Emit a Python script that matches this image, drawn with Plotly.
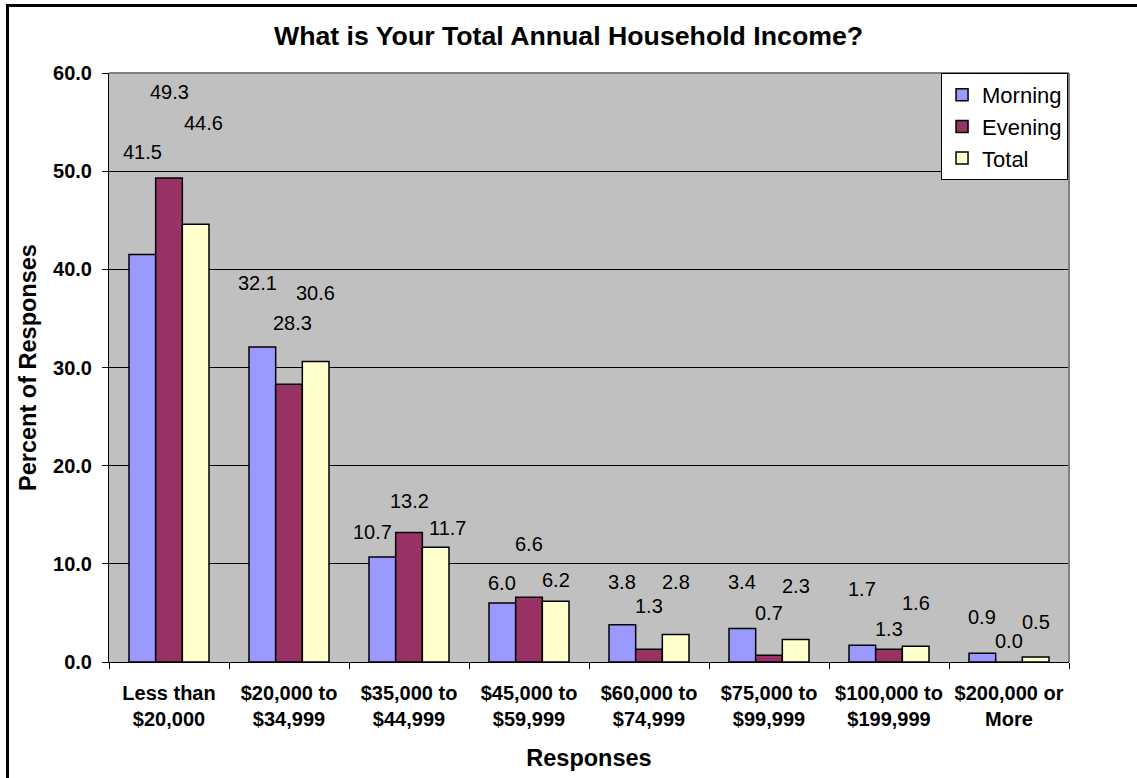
import plotly.graph_objects as go

# Income brackets (two-line axis labels)
categories = [
    "Less than<br>$20,000",
    "$20,000 to<br>$34,999",
    "$35,000 to<br>$44,999",
    "$45,000 to<br>$59,999",
    "$60,000 to<br>$74,999",
    "$75,000 to<br>$99,999",
    "$100,000 to<br>$199,999",
    "$200,000 or<br>More",
]

# Percent of responses per session
morning = [41.5, 32.1, 10.7, 6.0, 3.8, 3.4, 1.7, 0.9]
evening = [49.3, 28.3, 13.2, 6.6, 1.3, 0.7, 1.3, 0.0]
total = [44.6, 30.6, 11.7, 6.2, 2.8, 2.3, 1.6, 0.5]

y_ticks = [0, 10, 20, 30, 40, 50, 60]

# Where each value label sits (y in axis units, extra horizontal nudge in px)
morning_label_y = [52.0, 38.6, 13.2, 8.0, 8.2, 8.1, 7.4, 4.6]
evening_label_y = [58.1, 34.5, 16.4, 12.0, 5.7, 5.0, 3.4, 2.1]
total_label_y = [54.9, 37.6, 13.7, 8.35, 8.2, 7.7, 6.0, 4.1]
morning_label_dx = [0, -5, -10, 0, 0, 0, 0, 0]
evening_label_dx = [0, 3, 0, 0, 0, 0, 0, 0]
total_label_dx = [8, 0, 12, 0, 0, 0, 0, 0]

FONT = "Liberation Sans, Arial, sans-serif"
W, H = 1137, 778
M_L, M_R, M_T, M_B = 109, 68, 73, 116
BARGAP = 1 / 3

series = [
    ("Morning", morning, "#9999FF", morning_label_y, morning_label_dx),
    ("Evening", evening, "#993366", evening_label_y, evening_label_dx),
    ("Total", total, "#FFFFCC", total_label_y, total_label_dx),
]

fig = go.Figure()
for k, (name, vals, color, _, _) in enumerate(series):
    fig.add_trace(go.Bar(
        name=name,
        x=categories,
        y=vals,
        marker=dict(color=color, line=dict(color="black", width=1.5)),
        legendgroup=name,
        hoverinfo="skip",
    ))

# Value labels above the bars
plot_w = W - M_L - M_R
bar_px = plot_w / len(categories) * (1 - BARGAP) / len(series)
for k, (name, vals, color, label_y, label_dx) in enumerate(series):
    for i, cat in enumerate(categories):
        fig.add_annotation(
            x=cat, y=label_y[i], xref="x", yref="y",
            text=f"{vals[i]:.1f}", showarrow=False,
            xshift=(k - 1) * bar_px + label_dx[i],
            font=dict(family=FONT, size=20, color="black"),
        )

# Grey border on the top and right of the plot area
fig.add_shape(type="line", xref="paper", yref="paper", x0=0, x1=1, y0=1, y1=1,
              line=dict(color="#808080", width=2), layer="above")
fig.add_shape(type="line", xref="paper", yref="paper", x0=1, x1=1, y0=0, y1=1,
              line=dict(color="#808080", width=2), layer="above")

# Outer frame (left and top edges)
plot_h = H - M_T - M_B
def px_x(px):
    return (px - M_L) / plot_w
def px_y(py):
    return (H - M_B - py) / plot_h
fig.add_shape(type="path", xref="paper", yref="paper",
              path=f"M {px_x(7.5)} {px_y(H + 5)} L {px_x(7.5)} {px_y(5.5)} L {px_x(W + 5)} {px_y(5.5)}",
              line=dict(color="black", width=3), layer="above")

fig.update_layout(
    width=W, height=H,
    margin=dict(l=M_L, r=M_R, t=M_T, b=M_B),
    paper_bgcolor="white",
    plot_bgcolor="#C0C0C0",
    barmode="group",
    bargap=BARGAP,
    bargroupgap=0,
    font=dict(family=FONT, color="black"),
    title=dict(
        text="What is Your Total Annual Household Income?",
        x=0.5, xref="container", xanchor="center",
        y=1 - 36 / H, yref="container", yanchor="middle",
        font=dict(family=FONT, size=26.7, color="black", weight="bold"),
    ),
    legend=dict(
        x=0.999, y=1.0, xanchor="right", yanchor="top",
        bgcolor="white", bordercolor="black", borderwidth=1,
        font=dict(family=FONT, size=22, color="black"),
        tracegroupgap=4,
        traceorder="normal",
    ),
    showlegend=True,
)

fig.update_xaxes(
    type="category",
    automargin=False,
    tickson="boundaries",
    ticks="outside", ticklen=6, tickcolor="black", tickwidth=1,
    ticklabelstandoff=13,
    showline=True, linecolor="black", linewidth=1,
    showgrid=False,
    tickfont=dict(family=FONT, size=20, color="black", weight="bold"),
    title=dict(text="Responses", standoff=20,
               font=dict(family=FONT, size=23.5, color="black", weight="bold")),
)
fig.update_yaxes(
    range=[0, 60],
    automargin=False,
    tickvals=y_ticks,
    tickformat=".1f",
    ticks="outside", ticklen=6, tickcolor="black", tickwidth=1,
    ticklabelstandoff=6,
    showline=True, linecolor="black", linewidth=1,
    showgrid=True, gridcolor="black", gridwidth=1,
    zeroline=False,
    tickfont=dict(family=FONT, size=20, color="black", weight="bold"),
    title=dict(text="Percent of Responses", standoff=9,
               font=dict(family=FONT, size=23.5, color="black", weight="bold")),
)

fig.write_html("out.html")
